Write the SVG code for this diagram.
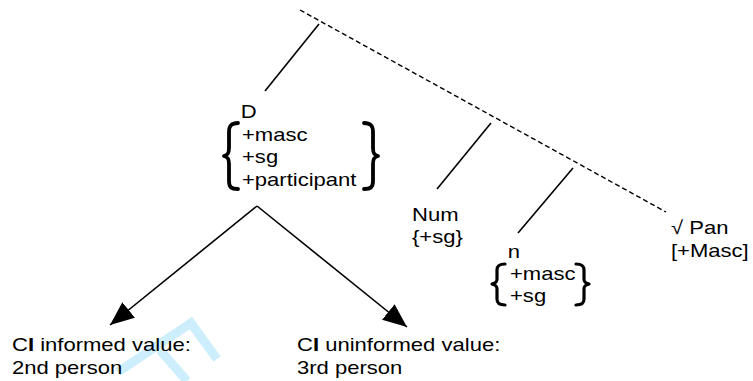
<svg xmlns="http://www.w3.org/2000/svg" width="753" height="381" viewBox="0 0 753 381">
  <style>
    /* labels use a slightly widened Arial-metric face */
    text { font-family: "Liberation Sans", Arial, sans-serif; font-size: 19px; fill: #000; }
    .b { font-weight: bold; }
    .edge { stroke: #000; stroke-width: 1.6; fill: none; }
    .spine { stroke: #000; stroke-width: 1.4; fill: none; stroke-dasharray: 5 3; }
    .brace { stroke: #000; stroke-width: 3.8; fill: none; stroke-linecap: round; stroke-linejoin: round; }
    .brace-sm { stroke: #000; stroke-width: 3.2; fill: none; stroke-linecap: round; stroke-linejoin: round; }
    .mark { stroke: #cdeefc; stroke-width: 9; fill: none; }
  </style>
  <defs>
    <marker id="tri" viewBox="0 0 24 20" refX="24" refY="10" markerWidth="24" markerHeight="20" markerUnits="userSpaceOnUse" orient="auto">
      <path d="M0,0 L24,10 L0,20 Z" fill="#000"/>
    </marker>
  </defs>

  <!-- faint background mark -->
  <polyline class="mark" points="118,372 191,323 217,359"/>
  <polyline class="mark" points="160,350 187,381"/>

  <!-- tree edges -->
  <g id="connectors">
    <line class="spine" x1="300" y1="10" x2="666" y2="212"/>
    <line class="edge" x1="319" y1="24" x2="265" y2="91"/>
    <line class="edge" x1="491" y1="123" x2="437" y2="189"/>
    <line class="edge" x1="573" y1="168" x2="518" y2="233"/>
    <line class="edge" x1="257" y1="206" x2="110" y2="325" marker-end="url(#tri)"/>
    <line class="edge" x1="257" y1="206" x2="407" y2="327" marker-end="url(#tri)"/>
  </g>

  <g id="node-D">
    <text transform="matrix(1.16 0 0 1 242 0)" y="118"><tspan x="-1">D</tspan><tspan x="0" dy="23">+masc</tspan><tspan x="0" dy="22">+sg</tspan><tspan x="0" dy="23">+participant</tspan></text>
    <path class="brace" d="M238,123 C231,123 229,126 229,132 L229,148 C229,153 228,155 224,156 C228,157 229,159 229,164 L229,181 C229,187 231,189 238,189"/>
    <path class="brace" d="M364,123 C371,123 373,126 373,132 L373,148 C373,153 374,155 378,156 C374,157 373,159 373,164 L373,181 C373,187 371,189 364,189"/>
  </g>

  <g id="node-Num">
    <text transform="matrix(1.16 0 0 1 412 0)" y="221"><tspan x="0">Num</tspan><tspan x="0" dy="22">{+sg}</tspan></text>
  </g>

  <g id="node-n">
    <text transform="matrix(1.16 0 0 1 510 0)" y="258"><tspan x="-2">n</tspan><tspan x="0" dy="22">+masc</tspan><tspan x="0" dy="22">+sg</tspan></text>
    <path class="brace-sm" d="M505,264 C499,264 497,266 497,270 L497,279 C497,282 496,283 492,284 C496,285 497,286 497,289 L497,299 C497,303 499,305 505,305"/>
    <path class="brace-sm" d="M576,264 C582,264 584,266 584,270 L584,279 C584,282 585,283 589,284 C585,285 584,286 584,289 L584,299 C584,303 582,305 576,305"/>
  </g>

  <g id="node-root">
    <text transform="matrix(1.16 0 0 1 671 0)" y="234"><tspan x="0">√ Pan</tspan><tspan x="0" dy="23">[+Masc]</tspan></text>
  </g>

  <g id="node-informed">
    <text transform="matrix(1.16 0 0 1 12 0)" y="351"><tspan x="0">C<tspan class="b">I</tspan> informed value:</tspan><tspan x="0" dy="23">2nd person</tspan></text>
  </g>

  <g id="node-uninformed">
    <text transform="matrix(1.16 0 0 1 297 0)" y="351"><tspan x="0">C<tspan class="b">I</tspan> uninformed value:</tspan><tspan x="0" dy="23">3rd person</tspan></text>
  </g>
</svg>
